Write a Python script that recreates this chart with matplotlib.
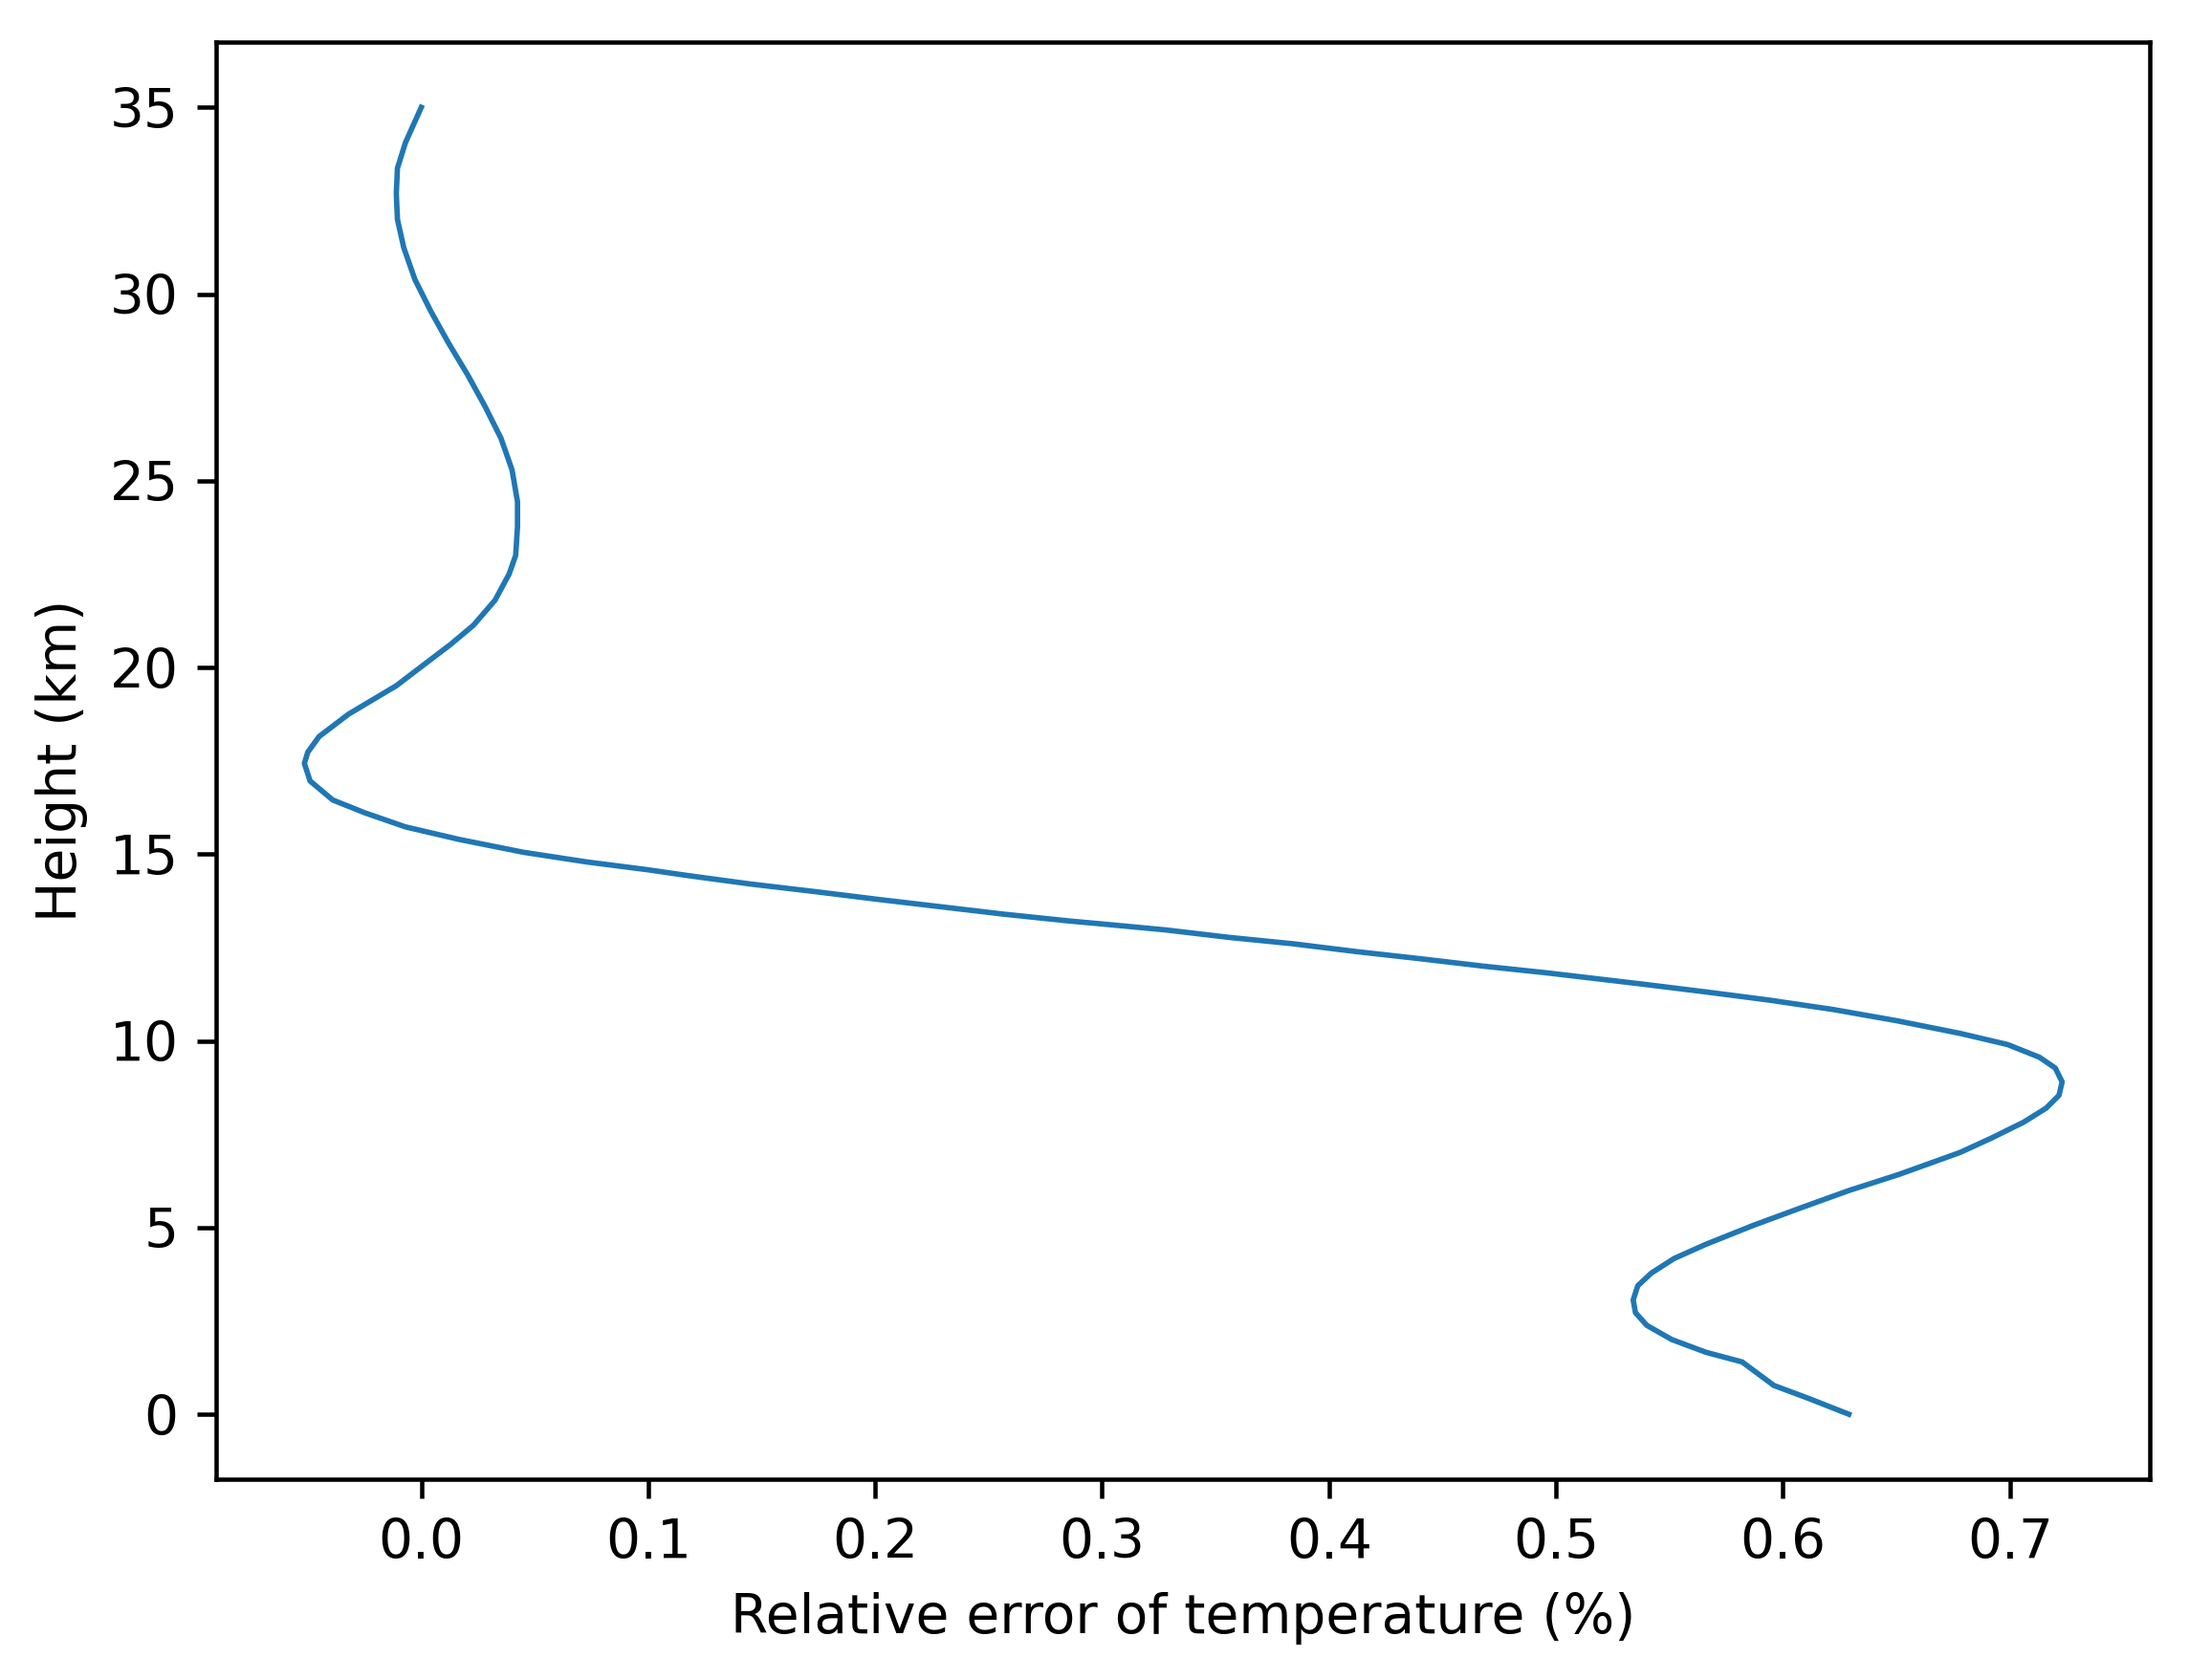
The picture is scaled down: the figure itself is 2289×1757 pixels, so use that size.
import matplotlib
matplotlib.use('Agg')
import matplotlib.pyplot as plt

# Height levels (km)
height_km = [0.0, 0.43, 0.77, 1.40, 1.66, 2.0, 2.38, 2.72, 3.06, 3.44,
             3.78, 4.17, 4.55, 5.06, 5.53, 5.99, 6.42, 7.01, 7.40, 7.82,
             8.2, 8.54, 8.9, 9.27, 9.56, 9.9, 10.2, 10.54, 10.84, 11.09,
             11.31, 11.52, 11.67, 11.82, 12.0, 12.2, 12.39, 12.6, 12.77, 12.97,
             13.13, 13.21, 13.39, 13.59, 13.79, 14.0, 14.2, 14.43, 14.58, 14.79,
             15.05, 15.39, 15.73, 16.11, 16.45, 16.96, 17.43, 17.73, 18.15, 18.75,
             19.51, 20.02, 20.62, 21.13, 21.8, 22.5, 23.0, 23.76, 24.44,
             25.29, 26.14, 26.99, 27.84, 28.69, 29.54, 30.39, 31.24, 32.0, 32.69,
             33.37, 34.05, 35.0]

# Relative error of temperature (%)
rel_error = [0.629, 0.611, 0.596, 0.582, 0.566, 0.551, 0.540, 0.535, 0.534, 0.536,
             0.542, 0.552, 0.566, 0.587, 0.608, 0.629, 0.651, 0.678, 0.692, 0.706,
             0.716, 0.7216, 0.723, 0.720, 0.713, 0.699, 0.678, 0.650, 0.622, 0.594,
             0.566, 0.538, 0.517, 0.496, 0.468, 0.440, 0.412, 0.384, 0.356, 0.328,
             0.300, 0.2855, 0.257, 0.229, 0.201, 0.173, 0.145, 0.117, 0.100, 0.073,
             0.045, 0.017, -0.007, -0.025, -0.039, -0.049, -0.0515, -0.050, -0.045, -0.032,
             -0.011, 0.0, 0.0130, 0.0230, 0.0325, 0.0387, 0.0416, 0.0424, 0.0424,
             0.040, 0.0351, 0.0281, 0.0204, 0.012, 0.0042, -0.0028, -0.0077, -0.0105, -0.011,
             -0.0105, -0.007, 0.0]

# original looks like a default 6.4x4.8 figure saved at ~408 dpi and cropped
dpi = 408
fig = plt.figure(figsize=(2289 / dpi, 1757 / dpi), dpi=dpi)
ax = fig.add_axes([0.0989, 0.1193, 0.9822 - 0.0989, 0.975 - 0.1193])

ax.plot(rel_error, height_km, color='#1f77b4', linewidth=1.0)
ax.set_xlabel('Relative error of temperature (%)')
ax.set_ylabel('Height (km)')

fig.savefig('out.png', dpi=dpi)
